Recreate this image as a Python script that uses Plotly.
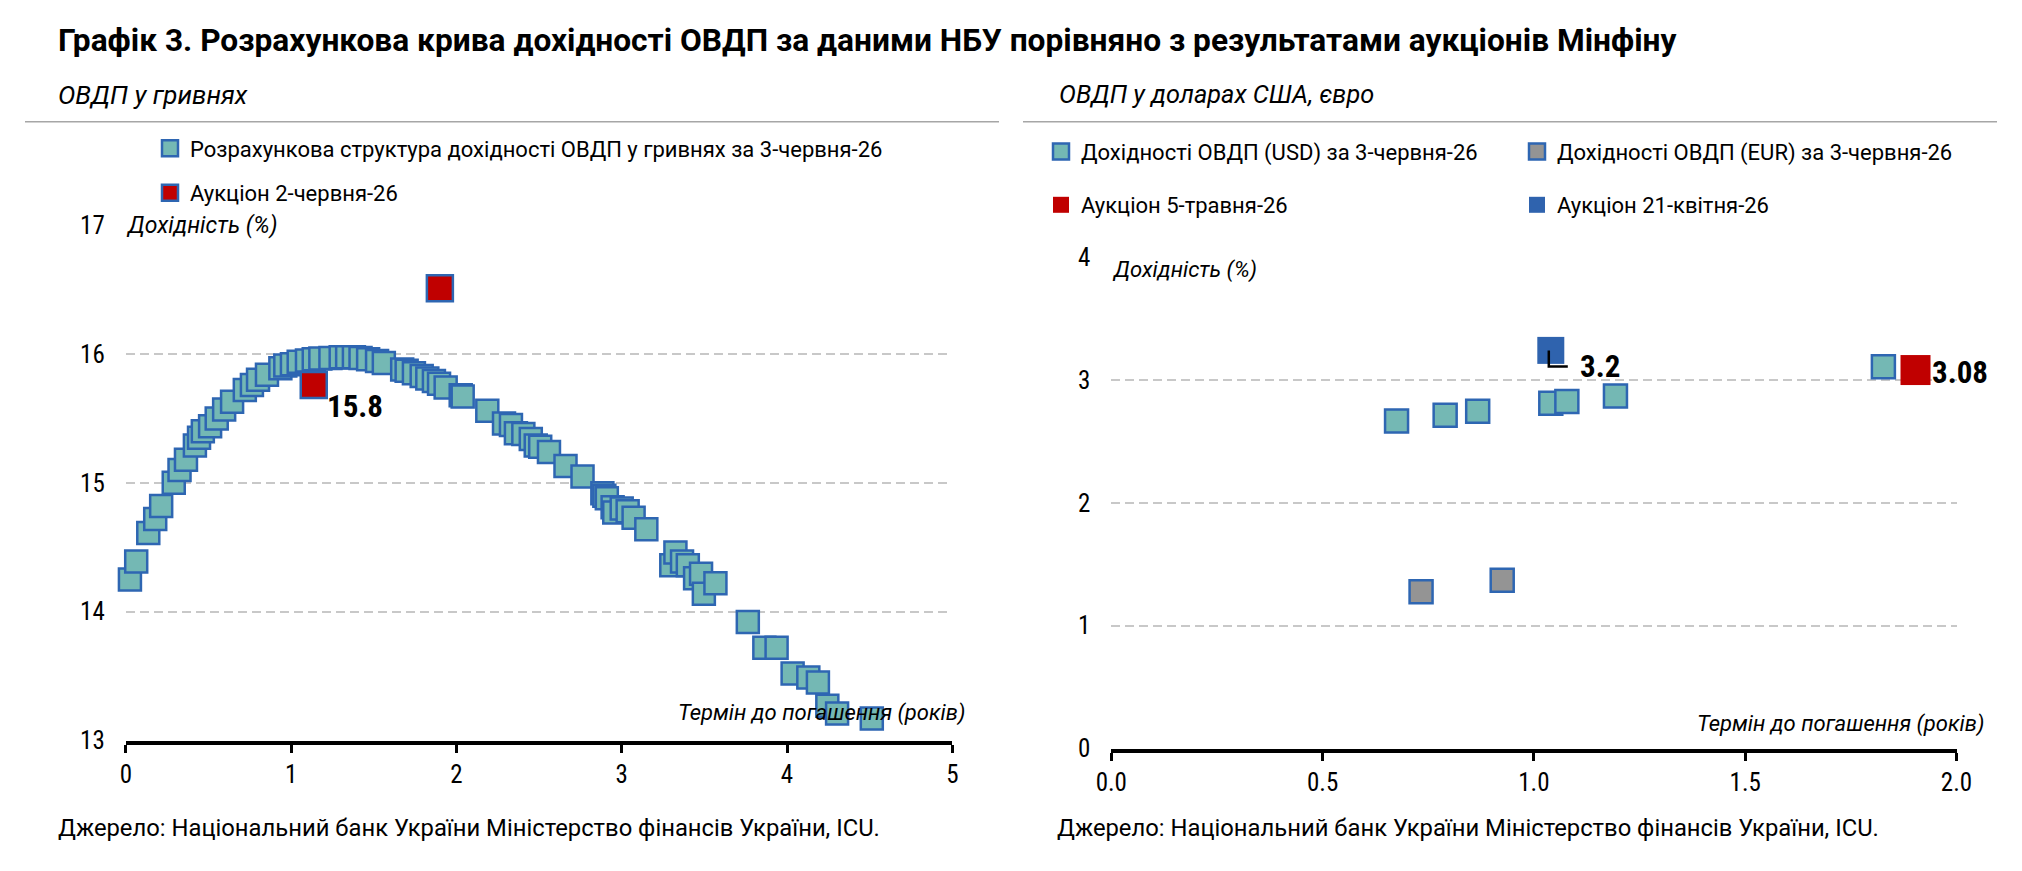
import plotly.graph_objects as go

W, H = 2022, 871

# ---------------- data ----------------
uah_term = [0.025, 0.063, 0.136, 0.178, 0.214, 0.29, 0.325, 0.364, 0.418, 0.443, 0.466,
            0.51, 0.55, 0.595, 0.643, 0.72, 0.763, 0.80, 0.854, 0.935, 0.965, 1.005,
            1.046, 1.096, 1.137, 1.177, 1.238, 1.30, 1.339, 1.38, 1.42, 1.466, 1.52,
            1.561, 1.672, 1.699, 1.743, 1.79, 1.824, 1.864, 1.895, 1.935, 2.026, 2.038,
            2.187, 2.288, 2.33, 2.36, 2.405, 2.45, 2.48, 2.507, 2.56, 2.66, 2.763,
            2.883, 2.895, 2.91, 2.945, 2.955, 3.0, 3.036, 3.072, 3.149, 3.30, 3.325,
            3.365, 3.40, 3.444, 3.48, 3.497, 3.567, 3.763, 3.863, 3.937, 4.034, 4.129,
            4.187, 4.244, 4.303, 4.513]
uah_yield = [14.25, 14.39, 14.61, 14.72, 14.82, 15.00, 15.10, 15.18, 15.29, 15.35, 15.40,
             15.44, 15.50, 15.57, 15.63, 15.72, 15.76, 15.80, 15.84, 15.89, 15.91, 15.92,
             15.94, 15.95, 15.96, 15.965, 15.97, 15.975, 15.975, 15.975, 15.97, 15.96, 15.945,
             15.93, 15.88, 15.87, 15.85, 15.83, 15.81, 15.79, 15.77, 15.74, 15.68, 15.67,
             15.56, 15.46, 15.45, 15.385, 15.38, 15.34, 15.29, 15.28, 15.24, 15.13, 15.05,
             14.92, 14.90, 14.88, 14.81, 14.77, 14.80, 14.78, 14.73, 14.64, 14.36, 14.46,
             14.39, 14.36, 14.26, 14.295, 14.14, 14.22, 13.92, 13.72, 13.72, 13.52, 13.49,
             13.45, 13.27, 13.21, 13.17]
auc_uah_term = [1.137, 1.90]
auc_uah_yield = [15.76, 16.51]

usd_term = [0.675, 0.79, 0.867, 1.04, 1.078, 1.193, 1.827]
usd_yield = [2.665, 2.713, 2.744, 2.81, 2.825, 2.868, 3.106]
eur_term = [0.733, 0.925]
eur_yield = [1.276, 1.37]
auc_may_term = [1.903]
auc_may_yield = [3.08]
auc_apr_term = [1.04]
auc_apr_yield = [3.24]

left_yticks = [13, 14, 15, 16, 17]
left_xticks = [0, 1, 2, 3, 4, 5]
right_yticks = [0, 1, 2, 3, 4]
right_xticks = [0.0, 0.5, 1.0, 1.5, 2.0]

# ---------------- styles ----------------
NARROW = "Roboto Condensed, Liberation Sans Narrow, DejaVu Sans Condensed, sans-serif"
TEXT = "Roboto, Liberation Sans, sans-serif"
TEAL = "#74B8B4"
BORDER = "#2E66B2"
RED = "#C00000"
GREY = "#949494"
BLUE = "#2F63AE"
GRID = "#C8C8C8"


def px(x):
    return x / W


def py(y):
    return 1 - y / H


fig = go.Figure()

fig.add_trace(go.Scatter(
    x=uah_term, y=uah_yield, mode="markers", xaxis="x", yaxis="y",
    name="Розрахункова структура дохідності ОВДП у гривнях за 3-червня-26",
    marker=dict(symbol="square", size=22, color=TEAL, opacity=1,
                line=dict(color=BORDER, width=2.5)),
    legend="legend", cliponaxis=False))
fig.add_trace(go.Scatter(
    x=auc_uah_term, y=auc_uah_yield, mode="markers", xaxis="x", yaxis="y",
    name="Аукціон 2-червня-26",
    marker=dict(symbol="square", size=26, color=RED, opacity=1,
                line=dict(color=BORDER, width=2.5)),
    legend="legend2", cliponaxis=False))

fig.add_trace(go.Scatter(
    x=usd_term, y=usd_yield, mode="markers", xaxis="x2", yaxis="y2",
    name="Дохідності ОВДП (USD) за 3-червня-26",
    marker=dict(symbol="square", size=23, color=TEAL, opacity=1,
                line=dict(color=BORDER, width=2.5)),
    legend="legend3", cliponaxis=False))
fig.add_trace(go.Scatter(
    x=eur_term, y=eur_yield, mode="markers", xaxis="x2", yaxis="y2",
    name="Дохідності ОВДП (EUR) за 3-червня-26",
    marker=dict(symbol="square", size=23, color=GREY, opacity=1,
                line=dict(color=BORDER, width=2.5)),
    legend="legend4", cliponaxis=False))
fig.add_trace(go.Scatter(
    x=auc_may_term, y=auc_may_yield, mode="markers", xaxis="x2", yaxis="y2",
    name="Аукціон 5-травня-26",
    marker=dict(symbol="square", size=30, color=RED, opacity=1,
                line=dict(color=RED, width=0)),
    legend="legend5", cliponaxis=False))
fig.add_trace(go.Scatter(
    x=auc_apr_term, y=auc_apr_yield, mode="markers", xaxis="x2", yaxis="y2",
    name="Аукціон 21-квітня-26",
    marker=dict(symbol="square", size=27, color=BLUE, opacity=1,
                line=dict(color=BLUE, width=0)),
    legend="legend6", cliponaxis=False))

axis_font = dict(family=NARROW, size=25, color="black")

lx0, lx1 = 125.8, 952.3
ly17, ly13 = 225.2, 740.5
rx0, rx1 = 1111.3, 1956.5
ry4, ry0 = 257.0, 748.5

common_x = dict(showgrid=False, zeroline=False, showline=True, linecolor="black",
                linewidth=4, ticks="outside", ticklen=8, tickwidth=3, tickcolor="black",
                tickfont=axis_font)
common_y = dict(showgrid=True, gridcolor=GRID, gridwidth=2, griddash="9px,5px",
                zeroline=False, showline=False, ticks="", tickfont=axis_font,
                ticklabelstandoff=20)

fig.update_layout(
    width=W, height=H,
    margin=dict(l=0, r=0, t=0, b=0, autoexpand=False),
    paper_bgcolor="white", plot_bgcolor="white",
    font=dict(family=TEXT, color="black"),
    showlegend=True,
    xaxis=dict(common_x, domain=[px(lx0), px(lx1)], range=[0, 5], tickvals=left_xticks,
               anchor="y"),
    yaxis=dict(common_y, domain=[py(ly13), py(ly17)], range=[13, 17], tickvals=left_yticks,
               anchor="x"),
    xaxis2=dict(common_x, domain=[px(rx0), px(rx1)], range=[0, 2], tickvals=right_xticks,
                tickformat=".1f", anchor="y2"),
    yaxis2=dict(common_y, domain=[py(ry0), py(ry4)], range=[0, 4], tickvals=right_yticks,
                anchor="x2"),
)

leg_font = dict(family=TEXT, size=22, color="black")


def legend_at(xpix, ypix):
    return dict(x=px(xpix), y=py(ypix), xanchor="left", yanchor="middle",
                bgcolor="rgba(0,0,0,0)", borderwidth=0, font=leg_font,
                itemclick=False, itemdoubleclick=False)


fig.update_layout(
    legend=legend_at(150, 148.5),
    legend2=legend_at(150, 193),
    legend3=legend_at(1041, 151.7),
    legend4=legend_at(1517, 151.7),
    legend5=legend_at(1041, 205),
    legend6=legend_at(1517, 205),
)

ann = []
ann.append(dict(text="<b>Графік 3. Розрахункова крива дохідності ОВДП за даними НБУ порівняно з результатами аукціонів Мінфіну</b>",
                xref="paper", yref="paper", x=px(56), y=py(41), xanchor="left", yanchor="middle",
                showarrow=False, font=dict(family=TEXT, size=31.7, color="black")))
for xp, t, fs in [(56, "ОВДП у гривнях", 26), (1057, "ОВДП у доларах США, євро", 25.3)]:
    ann.append(dict(text="<i>" + t + "</i>", xref="paper", yref="paper", x=px(xp), y=py(95),
                    xanchor="left", yanchor="middle", showarrow=False,
                    font=dict(family=TEXT, size=fs, color="black")))
for xp in [56, 1055]:
    ann.append(dict(text="Джерело: Національний банк України Міністерство фінансів України, ICU.",
                    xref="paper", yref="paper", x=px(xp), y=py(828), xanchor="left",
                    yanchor="middle", showarrow=False,
                    font=dict(family=TEXT, size=23.8, color="black")))
ann.append(dict(text="<i>Дохідність (%)</i>", xref="paper", yref="y", x=px(121), y=17,
                xanchor="left", yanchor="middle", showarrow=False, bgcolor="white", borderpad=4,
                font=dict(family=TEXT, size=23, color="black")))
ann.append(dict(text="<i>Дохідність (%)</i>", xref="paper", yref="paper", x=px(1106), y=py(270),
                xanchor="left", yanchor="middle", showarrow=False, bgcolor="white", borderpad=5,
                font=dict(family=TEXT, size=22, color="black")))
ann.append(dict(text="<i>Термін до погашення (років)</i>", xref="paper", yref="paper",
                x=px(967), y=py(713), xanchor="right", yanchor="middle", showarrow=False,
                font=dict(family=TEXT, size=22, color="black")))
ann.append(dict(text="<i>Термін до погашення (років)</i>", xref="paper", yref="paper",
                x=px(1986), y=py(724), xanchor="right", yanchor="middle", showarrow=False,
                font=dict(family=TEXT, size=22, color="black")))
lab_font = dict(family=NARROW, size=31, color="black")
ann.append(dict(text="<b>%.1f</b>" % auc_uah_yield[0], xref="x", yref="y",
                x=auc_uah_term[0], y=auc_uah_yield[0], xshift=41, yshift=-22,
                showarrow=False, font=lab_font))
ann.append(dict(text="<b>%.1f</b>" % auc_apr_yield[0], xref="x2", yref="y2",
                x=auc_apr_term[0], y=auc_apr_yield[0], xshift=49, yshift=-16,
                showarrow=False, font=lab_font))
ann.append(dict(text="<b>%.2f</b>" % auc_may_yield[0], xref="x2", yref="y2",
                x=auc_may_term[0], y=auc_may_yield[0], xshift=14, yshift=-2,
                xanchor="left", showarrow=False, font=lab_font))
fig.update_layout(annotations=ann)

shapes = [
    dict(type="line", xref="paper", yref="paper", x0=px(25), x1=px(999), y0=py(121.7), y1=py(121.7),
         line=dict(color="#A6A6A6", width=1.5)),
    dict(type="line", xref="paper", yref="paper", x0=px(1023), x1=px(1997), y0=py(121.7), y1=py(121.7),
         line=dict(color="#A6A6A6", width=1.5)),
    dict(type="path", xref="x2", yref="y2", xsizemode="pixel", ysizemode="pixel",
         xanchor=auc_apr_term[0], yanchor=auc_apr_yield[0],
         path="M -2,0 L -2,-16 L 17,-16", line=dict(color="black", width=2.5)),
]
fig.update_layout(shapes=shapes)

fig.write_html("out.html")
